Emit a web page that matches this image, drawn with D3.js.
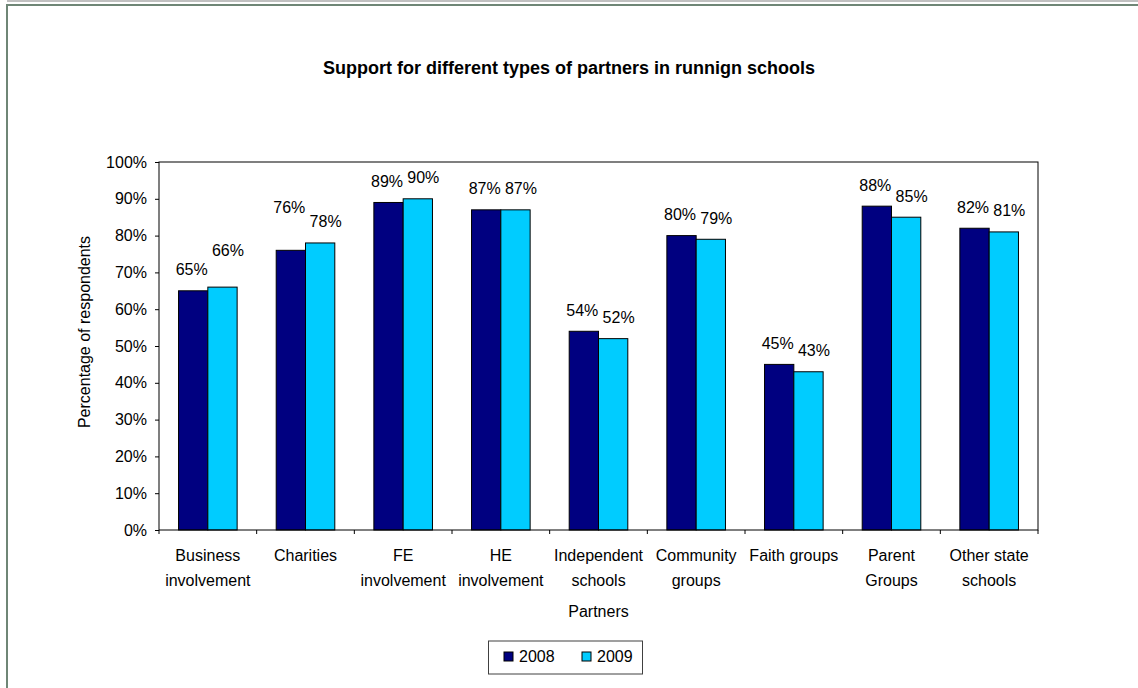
<!DOCTYPE html>
<html>
<head>
<meta charset="utf-8">
<script src="https://cdn.jsdelivr.net/npm/d3@7"></script>
<style>
	body { margin: 0; background: #fff; }
	text { font-family: "Liberation Sans", Arial, sans-serif; fill: #000; }
</style>
</head>
<body>
<div id="chart"></div>
<script>
// Chart data
var categories = ["Business\ninvolvement", "Charities", "FE\ninvolvement", "HE\ninvolvement",
	"Independent\nschools", "Community\ngroups", "Faith groups", "Parent\nGroups", "Other state\nschools"];
var series = ["2008", "2009"];
var values2008 = [0.65, 0.76, 0.89, 0.87, 0.54, 0.80, 0.45, 0.88, 0.82];
var values2009 = [0.66, 0.78, 0.90, 0.87, 0.52, 0.79, 0.43, 0.85, 0.81];
var yTicks = [0, 0.1, 0.2, 0.3, 0.4, 0.5, 0.6, 0.7, 0.8, 0.9, 1.0];
var colors = ["#000080", "#00CCFF"];

// a couple of labels were dragged up by hand in the original
var labelLift = { "Business\ninvolvement|2009": 16, "Charities|2008": 22 };

var width = 1138,
	height = 688,
	svg,
	x0, x1, y;

var plot = { left: 159, right: 1038, top: 162, bottom: 530 };

function init() {
	setChart();
	drawFrame();
	drawAxes();
	drawBars();
	drawLegend();
}

function setChart() {
	svg = d3.select("#chart")
		.append("svg")
		.attr("width", width)
		.attr("height", height);

	svg.append("rect")
		.attr("width", width)
		.attr("height", height)
		.attr("fill", "#fff");

	x0 = d3.scaleBand().domain(categories).range([plot.left, plot.right]);
	x1 = d3.scaleBand().domain(series)
		.range([x0.bandwidth() * 0.2, x0.bandwidth() * 0.8]);
	y = d3.scaleLinear().domain([0, 1]).range([plot.bottom, plot.top]);
}

function drawFrame() {
	// outer border (cut off on the right and bottom)
	svg.append("rect")
		.attr("x", 7).attr("y", 0)
		.attr("width", width).attr("height", 2)
		.attr("fill", "#c0c0c0");
	svg.append("rect")
		.attr("x", 7).attr("y", 5)
		.attr("width", width + 50).attr("height", height + 50)
		.attr("fill", "none")
		.attr("stroke", "#6f8676")
		.attr("stroke-width", 2);

	svg.append("text")
		.attr("x", width / 2)
		.attr("y", 74)
		.attr("text-anchor", "middle")
		.style("font-size", "18px")
		.style("font-weight", "bold")
		.text("Support for different types of partners in runnign schools");
}

function drawAxes() {
	var yAxis = d3.axisLeft(y)
		.tickValues(yTicks)
		.tickFormat(d3.format(".0%"))
		.tickSize(4)
		.tickSizeOuter(0)
		.tickPadding(8);

	var gy = svg.append("g")
		.attr("transform", "translate(" + plot.left + ",0)")
		.call(yAxis);
	gy.select(".domain").remove();
	gy.selectAll("line").attr("stroke", "#000");
	gy.selectAll("text")
		.style("font-size", "16px")
		.style("font-family", "Liberation Sans, Arial, sans-serif");

	// ticks on the x axis sit between categories
	var bounds = categories.map(function(c) { return x0(c); }).concat([x0.range()[1]]);
	svg.append("g").selectAll("line")
		.data(bounds)
		.enter().append("line")
		.attr("x1", function(d) { return d; })
		.attr("x2", function(d) { return d; })
		.attr("y1", plot.bottom)
		.attr("y2", plot.bottom + 4)
		.attr("stroke", "#000");

	var labels = svg.append("g").selectAll("text")
		.data(categories)
		.enter().append("text")
		.attr("text-anchor", "middle")
		.style("font-size", "16px");
	labels.selectAll("tspan")
		.data(function(d) { return d.split("\n").map(function(s) { return { s: s, c: d }; }); })
		.enter().append("tspan")
		.attr("x", function(d) { return x0(d.c) + x0.bandwidth() / 2; })
		.attr("y", function(d, i) { return 561 + i * 24.5; })
		.text(function(d) { return d.s; });

	svg.append("text")
		.attr("x", (plot.left + plot.right) / 2)
		.attr("y", 617)
		.attr("text-anchor", "middle")
		.style("font-size", "16px")
		.text("Partners");

	svg.append("text")
		.attr("transform", "translate(90,332) rotate(-90)")
		.attr("text-anchor", "middle")
		.style("font-size", "16px")
		.text("Percentage of respondents");
}

function drawBars() {
	var rows = categories.map(function(c, i) {
		return { cat: c, vals: [
			{ cat: c, key: "2008", v: values2008[i], k: 0 },
			{ cat: c, key: "2009", v: values2009[i], k: 1 }
		] };
	});

	var groups = svg.append("g").selectAll("g")
		.data(rows)
		.enter().append("g")
		.attr("transform", function(d) { return "translate(" + x0(d.cat) + ",0)"; });

	groups.selectAll("rect")
		.data(function(d) { return d.vals; })
		.enter().append("rect")
		.attr("x", function(d) { return x1(d.key); })
		.attr("y", function(d) { return y(d.v); })
		.attr("width", x1.bandwidth())
		.attr("height", function(d) { return y(0) - y(d.v); })
		.attr("fill", function(d) { return colors[d.k]; })
		.attr("stroke", "#000")
		.attr("stroke-width", 1);

	groups.selectAll("text")
		.data(function(d) { return d.vals; })
		.enter().append("text")
		.attr("x", function(d) { return x1(d.key) + x1.bandwidth() / 2 + (d.k ? 5.5 : -1.5); })
		.attr("y", function(d) { return y(d.v) - 15.5 - (labelLift[d.cat + "|" + d.key] || 0); })
		.attr("text-anchor", "middle")
		.style("font-size", "16px")
		.text(function(d) { return d3.format(".0%")(d.v); });

	// plot area outline
	svg.append("rect")
		.attr("x", plot.left)
		.attr("y", plot.top)
		.attr("width", plot.right - plot.left)
		.attr("height", plot.bottom - plot.top)
		.attr("fill", "none")
		.attr("stroke", "#000")
		.attr("stroke-width", 1);
}

function drawLegend() {
	var lg = svg.append("g");
	lg.append("rect")
		.attr("x", 488.5).attr("y", 641)
		.attr("width", 154).attr("height", 33)
		.attr("fill", "#fff")
		.attr("stroke", "#404040");

	var items = lg.selectAll("g")
		.data(series)
		.enter().append("g")
		.attr("transform", function(d, i) { return "translate(" + (504 + i * 78) + ",652)"; });
	items.append("rect")
		.attr("width", 9).attr("height", 9)
		.attr("fill", function(d, i) { return colors[i]; })
		.attr("stroke", "#000");
	items.append("text")
		.attr("x", 15)
		.attr("y", 10)
		.style("font-size", "16px")
		.text(function(d) { return d; });
}

window.onload = init;
</script>
</body>
</html>
